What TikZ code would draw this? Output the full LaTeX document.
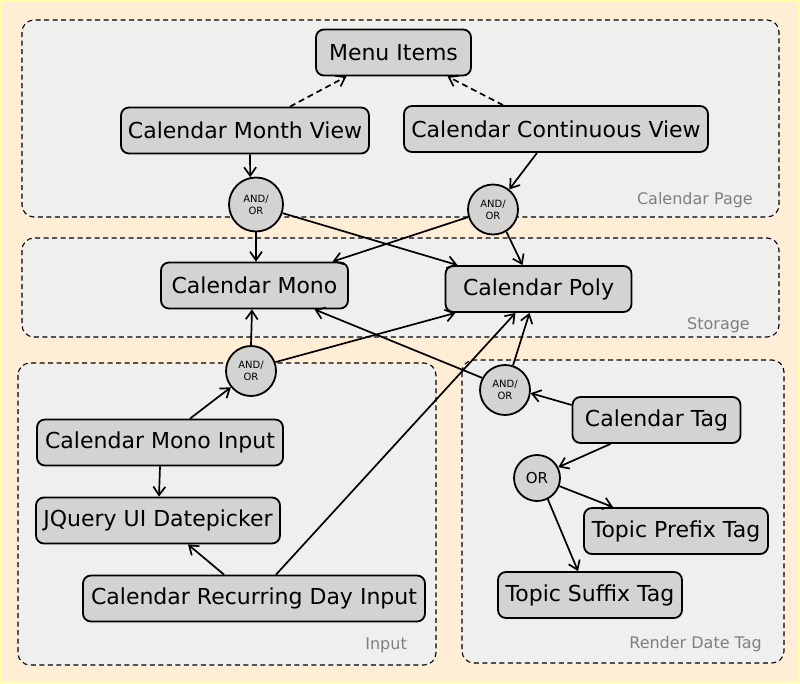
\documentclass[tikz,border=0pt]{standalone}
\usepackage{fontspec}
\setmainfont{DejaVu Sans}
\usepackage{tikz}
\usetikzlibrary{arrows.meta}
\definecolor{peach}{HTML}{FFEDD5}
\definecolor{rimyellow}{HTML}{FFFFA8}
\definecolor{clusterfill}{HTML}{EFF0EE}
\definecolor{nodegrey}{HTML}{D3D4D2}
\definecolor{labelgrey}{HTML}{7F7F7F}
\tikzset{
  comp/.style={draw, line width=1.8pt, rounded corners=8pt, fill=nodegrey, minimum height=46pt, inner sep=3pt, font=\fontsize{22}{26}\selectfont},
  junc/.style={circle, draw, line width=1.8pt, fill=nodegrey, inner sep=0pt, align=center, font=\fontsize{10}{12}\selectfont},
  clusterbox/.style={draw, line width=1.1pt, dash pattern=on 5pt off 3.5pt, rounded corners=12pt, fill=clusterfill},
  clusterlabel/.style={anchor=base east, text=labelgrey, font=\fontsize{16}{19}\selectfont, inner sep=0pt},
  dep/.style={line width=1.7pt, -{Straight Barb[length=8.5pt,width=12pt]}},
  weak/.style={dep, dash pattern=on 6pt off 4pt},
}
\newcommand{\cluster}[8]{ \draw[clusterbox] ( #2 , #3 ) rectangle ( #4 , #5 ); \node[clusterlabel] (#1) at ( #6 , #7 ) {#8};}

\begin{document}
\begin{tikzpicture}[x=1pt,y=-1pt]
        \useasboundingbox (0,0) rectangle (800,683);
        \fill[peach] (0,0) rectangle (800,683);
        \draw[rimyellow, line width=2pt] (1,1) rectangle (799,682);
        % clusters
        \cluster{pagelbl}{22}{20}{779}{217}{753}{204}{Calendar Page}
        \cluster{storelbl}{22}{238}{779}{337}{750}{329}{Storage}
        \cluster{inputlbl}{18}{363}{436}{665}{407}{649}{Input}
        \cluster{renderlbl}{462}{360}{784}{663}{762}{648}{Render Date Tag}
        % calendar page
        \node[comp, minimum width=155pt] (menu) at (393.5,52.5) {Menu Items};
        \node[comp, minimum width=248pt] (mview) at (245,130.5) {Calendar Month View};
        \node[comp, minimum width=304pt] (cview) at (556,129) {Calendar Continuous View};
        \node[junc, minimum size=54pt] (andone) at (256,204.5) {AND/\\OR};
        \node[junc, minimum size=50pt] (andtwo) at (493,209.5) {AND/\\OR};
        % storage
        \node[comp, minimum width=187pt] (mono) at (254.5,285.5) {Calendar Mono};
        \node[comp, minimum width=186pt] (poly) at (538.5,289) {Calendar Poly};
        % input
        \node[junc, minimum size=50pt] (andthree) at (251,371) {AND/\\OR};
        \node[comp, minimum width=246pt] (monoin) at (160,442.5) {Calendar Mono Input};
        \node[comp, minimum width=244pt] (dpick) at (158,520.5) {JQuery UI Datepicker};
        \node[comp, minimum width=342pt] (recur) at (254,598.5) {Calendar Recurring Day Input};
        % render date tag
        \node[junc, minimum size=50pt] (andfour) at (505,390) {AND/\\OR};
        \node[comp, minimum width=168pt] (tag) at (656.5,420) {Calendar Tag};
        \node[junc, minimum size=46pt, font=\fontsize{15}{18}\selectfont] (orjunc) at (537,478) {OR};
        \node[comp, minimum width=184pt] (prefix) at (676,531) {Topic Prefix Tag};
        \node[comp, minimum width=184pt] (suffix) at (590,595) {Topic Suffix Tag};

        % edges into calendar page
        \draw[weak] ([xshift=45pt]mview.north) -- ([xshift=-47pt]menu.south);
        \draw[weak] ([xshift=-53pt]cview.north) -- ([xshift=54pt]menu.south);
        \draw[dep] ([xshift=5pt]mview.south) -- (andone.102);
        \draw[dep] ([xshift=-19pt]cview.south) -- (andtwo.51);
        % edges into storage
        \draw[dep] (andone.south) -- ([xshift=1.5pt]mono.north);
        \draw[dep] (andone.-18) -- ([xshift=-81pt]poly.north);
        \draw[dep] (andtwo.197) -- ([xshift=78pt]mono.north);
        \draw[dep] (andtwo.-59) -- ([xshift=-16pt]poly.north);
        \draw[dep] (andthree.north) -- ([xshift=-2.5pt]mono.south);
        \draw[dep] (andthree.20) -- ([xshift=-83pt]poly.south);
        \draw[dep] ([xshift=22pt]recur.north) -- ([xshift=-23pt]poly.south);
        \draw[dep] (andfour.152) -- ([xshift=60pt]mono.south);
        \draw[dep] (andfour.72) -- ([xshift=-9pt]poly.south);
        % edges in input
        \draw[dep] ([xshift=30pt]monoin.north) -- (andthree.219);
        \draw[dep] (monoin.south) -- ([xshift=1pt]dpick.north);
        \draw[dep] ([xshift=-30pt]recur.north) -- ([xshift=30pt]dpick.south);
        % edges in render date tag
        \draw[dep] ([yshift=15pt]tag.west) -- (andfour.-7);
        \draw[dep] ([xshift=-46pt]tag.south) -- (orjunc.27);
        \draw[dep] (orjunc.-20) -- ([xshift=-63pt]prefix.north);
        \draw[dep] (orjunc.-63) -- ([xshift=-12pt]suffix.north);
\end{tikzpicture}
\end{document}
